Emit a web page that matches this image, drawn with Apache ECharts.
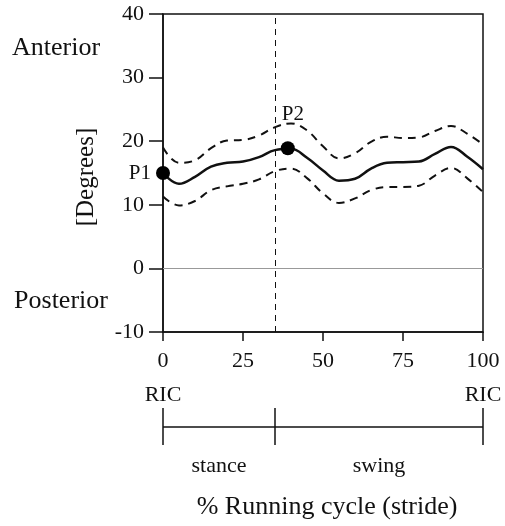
<!DOCTYPE html>
<html>
<head>
<meta charset="utf-8">
<script src="https://cdn.jsdelivr.net/npm/echarts@6/dist/echarts.min.js"></script>
<style>
  html, body { margin: 0; padding: 0; background: #fff; }
  #chart { width: 505px; height: 526px; }
</style>
</head>
<body>
<div id="chart"></div>
<script>
// % of running cycle
var cycle = [0, 5, 10, 15, 20, 25, 30, 35, 40, 45, 50, 55, 60, 65, 70, 75, 80, 85, 90, 95, 100];
// mean angle and +/- SD band, degrees
var meanAngle = [15.0, 13.3, 14.4, 16.0, 16.6, 16.8, 17.5, 18.6, 18.8, 17.4, 15.4, 13.8, 14.1, 15.7, 16.6, 16.7, 16.8, 18.0, 19.1, 17.6, 15.6];
var upperSD = [19.0, 16.6, 17.0, 18.9, 20.1, 20.2, 20.9, 22.2, 22.8, 21.7, 19.2, 17.3, 18.1, 19.9, 20.7, 20.5, 20.6, 21.6, 22.4, 21.2, 19.5];
var lowerSD = [11.3, 9.9, 10.6, 12.3, 12.9, 13.3, 14.0, 15.3, 15.7, 14.2, 11.8, 10.3, 11.0, 12.3, 12.8, 12.8, 13.0, 14.6, 15.8, 14.2, 12.0];
// marked points
var peakNames = ['P1', 'P2'];
var peakPoints = [[0, 15.0], [39, 18.9]];
// stance / swing split
var toeOff = 35;
var phaseBounds = [0, 35, 100];
var phaseNames = ['stance', 'swing'];

var serif = 'Liberation Serif';
var ink = '#111';

function pairs(ys) {
  var out = [];
  for (var i = 0; i < cycle.length; i++) out.push([cycle[i], ys[i]]);
  return out;
}

var myChart = echarts.init(document.getElementById('chart'));

var option = {
  animation: false,
  grid: {
    left: 163, right: 22, top: 14, bottom: 194,
    show: true, borderColor: ink, borderWidth: 1.5
  },
  xAxis: {
    type: 'value', min: 0, max: 100, interval: 25,
    axisLine: { show: true, onZero: false, lineStyle: { color: ink, width: 1.5 } },
    axisTick: { show: true, length: 9, lineStyle: { color: ink, width: 1.5 } },
    axisLabel: { color: ink, fontFamily: serif, fontSize: 22, margin: 18 },
    splitLine: { show: false }
  },
  yAxis: {
    type: 'value', min: -10, max: 40, interval: 10,
    axisLine: { show: true, lineStyle: { color: ink, width: 1.5 } },
    axisTick: { show: true, length: 14, lineStyle: { color: ink, width: 1.5 } },
    axisLabel: { color: ink, fontFamily: serif, fontSize: 22, margin: 19 },
    splitLine: { show: false }
  },
  series: [
    {
      name: 'upper', type: 'line', data: pairs(upperSD), smooth: 0.4,
      symbol: 'none', lineStyle: { color: ink, width: 2, type: [8, 6] }
    },
    {
      name: 'lower', type: 'line', data: pairs(lowerSD), smooth: 0.4,
      symbol: 'none', lineStyle: { color: ink, width: 2, type: [8, 6] }
    },
    {
      name: 'mean', type: 'line', data: pairs(meanAngle), smooth: 0.4,
      symbol: 'none', lineStyle: { color: ink, width: 2.5 },
      markLine: {
        silent: true, symbol: 'none', label: { show: false },
        data: [
          { yAxis: 0, lineStyle: { color: '#999', type: 'solid', width: 1 } },
          { xAxis: toeOff, lineStyle: { color: ink, type: [6, 5], width: 1 } }
        ]
      }
    },
    {
      name: 'points', type: 'scatter', symbolSize: 14, z: 5,
      itemStyle: { color: '#000', opacity: 1 },
      data: [
        { value: peakPoints[0], name: peakNames[0],
          label: { show: true, position: 'left', distance: 5, formatter: '{b}', color: ink, opacity: 1, fontFamily: serif, fontSize: 21 } },
        { value: peakPoints[1], name: peakNames[1],
          label: { show: true, position: 'top', distance: 16, offset: [5, 0], formatter: '{b}', color: ink, opacity: 1, fontFamily: serif, fontSize: 21 } }
      ]
    }
  ]
};

myChart.setOption(option);

// annotations below the x axis, placed through the axis scale
var xs = phaseBounds.map(function (v) { return myChart.convertToPixel({ gridIndex: 0 }, [v, -10])[0]; });
var barY = 427;
var g = [];
g.push({ type: 'line', shape: { x1: xs[0], y1: barY, x2: xs[2], y2: barY }, style: { stroke: ink, lineWidth: 1.5 } });
xs.forEach(function (x) {
  g.push({ type: 'line', shape: { x1: x, y1: 408, x2: x, y2: 445 }, style: { stroke: ink, lineWidth: 1.5 } });
});
g.push({ type: 'text', x: xs[0], y: 395, style: { text: 'RIC', fill: ink, font: '22px ' + serif, align: 'center', verticalAlign: 'middle' } });
g.push({ type: 'text', x: xs[2], y: 395, style: { text: 'RIC', fill: ink, font: '22px ' + serif, align: 'center', verticalAlign: 'middle' } });
for (var i = 0; i < phaseNames.length; i++) {
  g.push({ type: 'text', x: (xs[i] + xs[i + 1]) / 2, y: 466,
    style: { text: phaseNames[i], fill: ink, font: '22px ' + serif, align: 'center', verticalAlign: 'middle' } });
}
g.push({ type: 'text', x: 327, y: 507, style: { text: '% Running cycle (stride)', fill: ink, font: '26px ' + serif, align: 'center', verticalAlign: 'middle' } });
g.push({ type: 'text', x: 56, y: 48, style: { text: 'Anterior', fill: ink, font: '26px ' + serif, align: 'center', verticalAlign: 'middle' } });
g.push({ type: 'text', x: 61, y: 301, style: { text: 'Posterior', fill: ink, font: '26px ' + serif, align: 'center', verticalAlign: 'middle' } });
g.push({ type: 'text', x: 86, y: 177, rotation: Math.PI / 2,
  style: { text: '[Degrees]', fill: ink, font: '25px ' + serif, align: 'center', verticalAlign: 'middle' } });
myChart.setOption({ graphic: g });
</script>
</body>
</html>
